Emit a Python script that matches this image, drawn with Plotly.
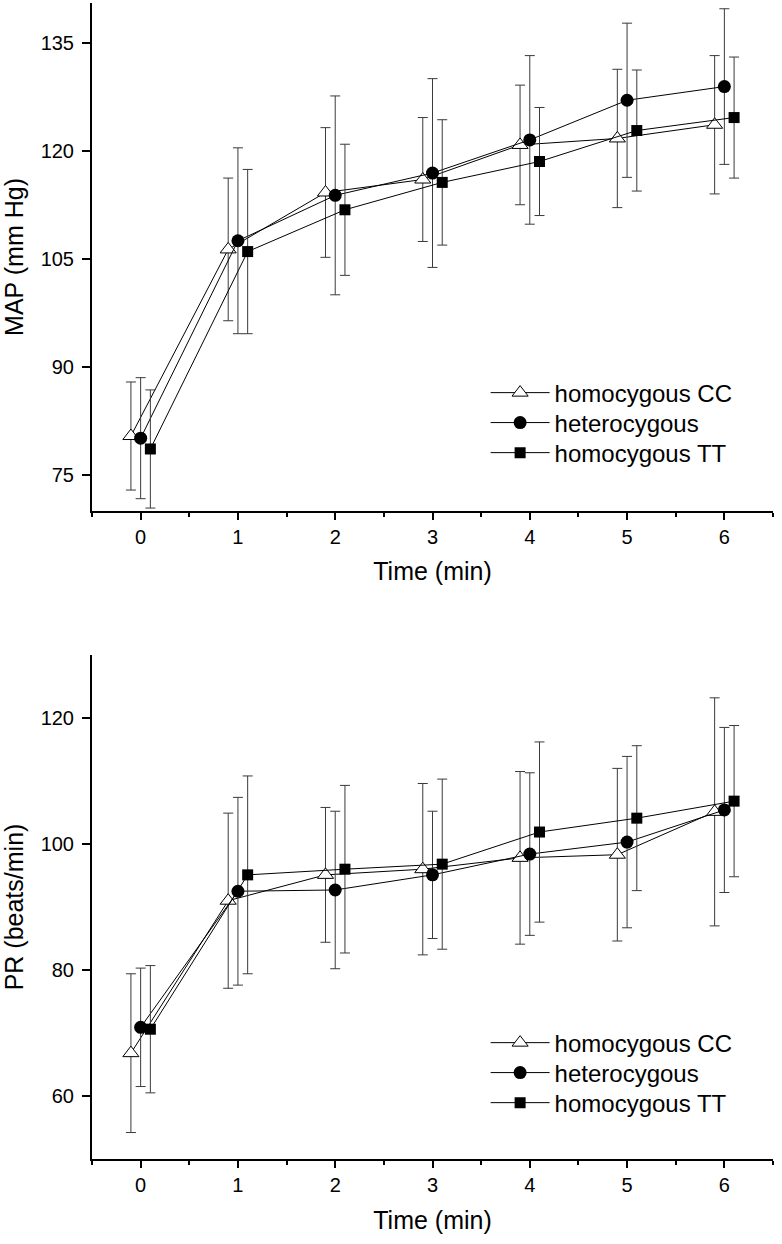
import plotly.graph_objects as go

time = [0, 1, 2, 3, 4, 5, 6]
groups = ["homocygous CC", "heterocygous", "homocygous TT"]

MAP_CC = [80.4, 106.3, 114.2, 116.0, 120.8, 121.7, 123.6]
MAP_CC_sd = [7.5, 9.9, 9.0, 8.6, 8.3, 9.6, 9.6]
MAP_het = [80.1, 107.5, 113.8, 116.9, 121.5, 127.0, 128.9]
MAP_het_sd = [8.4, 12.9, 13.8, 13.1, 11.7, 10.7, 10.8]
MAP_TT = [78.6, 106.0, 111.8, 115.6, 118.5, 122.8, 124.6]
MAP_TT_sd = [8.2, 11.4, 9.1, 8.7, 7.5, 8.4, 8.4]

PR_CC = [66.8, 91.0, 95.1, 96.0, 97.8, 98.3, 105.1]
PR_CC_sd = [12.6, 13.9, 10.7, 13.6, 13.7, 13.7, 18.1]
PR_het = [70.9, 92.5, 92.7, 95.1, 98.4, 100.3, 105.4]
PR_het_sd = [9.4, 14.9, 12.5, 10.1, 12.9, 13.6, 13.1]
PR_TT = [70.6, 95.1, 96.0, 96.8, 101.9, 104.1, 106.8]
PR_TT_sd = [10.1, 15.7, 13.3, 13.5, 14.3, 11.5, 12.0]

map_ticks = [75, 90, 105, 120, 135]
pr_ticks = [60, 80, 100, 120]

FONT = "Liberation Sans, Arial, sans-serif"
offsets = [-0.1, 0.0, 0.1]
styles = [
    dict(symbol="triangle-up", size=14, color="white", line=dict(color="black", width=1)),
    dict(symbol="circle", size=13, color="black", line=dict(color="black", width=0)),
    dict(symbol="square", size=11, color="black", line=dict(color="black", width=0)),
]

# one legend box per entry so row spacing can match the reference
top_legends = ["legend", "legend2", "legend3"]
bot_legends = ["legend4", "legend5", "legend6"]
top_leg_y = [0.6626, 0.6367, 0.6107]
bot_leg_y = [0.1003, 0.0744, 0.0484]

fig = go.Figure()

def add_set(means, sds, xaxis, yaxis, legends):
    for name, m, s, off, st, lg in zip(groups, means, sds, offsets, styles, legends):
        fig.add_trace(go.Scatter(
            x=[t + off for t in time], y=m, name=name, mode="lines+markers",
            line=dict(color="black", width=1), marker=st,
            error_y=dict(type="data", array=s, visible=True, color="#3a3a3a",
                         thickness=1, width=5),
            xaxis=xaxis, yaxis=yaxis, legend=lg,
        ))

add_set([MAP_CC, MAP_het, MAP_TT], [MAP_CC_sd, MAP_het_sd, MAP_TT_sd], "x", "y", top_legends)
add_set([PR_CC, PR_het, PR_TT], [PR_CC_sd, PR_het_sd, PR_TT_sd], "x2", "y2", bot_legends)

xcommon = dict(range=[-0.5, 6.5], tickmode="array", tickvals=time, ticks="outside",
               ticklen=7, tickwidth=1.5, tickcolor="black", showline=True,
               linecolor="black", linewidth=2, showgrid=False, zeroline=False,
               automargin=False,
               tickfont=dict(family=FONT, size=20, color="black"),
               minor=dict(dtick=0.5, tick0=0.5, ticks="outside", ticklen=4,
                          tickwidth=1.5, tickcolor="black", showgrid=False),
               title=dict(text="Time (min)", font=dict(family=FONT, size=25, color="black"),
                          standoff=16))
ycommon = dict(ticks="outside", ticklen=8, tickwidth=1.5, tickcolor="black",
               showline=True, linecolor="black", linewidth=2, showgrid=False,
               zeroline=False, automargin=False, ticklabelstandoff=4,
               tickfont=dict(family=FONT, size=20, color="black"))

def leg(y):
    return dict(x=0.578, y=y, xanchor="left", yanchor="middle",
                bgcolor="rgba(0,0,0,0)", borderwidth=0, itemwidth=59,
                font=dict(family=FONT, size=24, color="black"), tracegroupgap=0)

legend_layout = {}
for name, y in zip(top_legends + bot_legends, top_leg_y + bot_leg_y):
    legend_layout[name] = leg(y)

fig.update_layout(
    width=782, height=1244,
    margin=dict(l=92, r=9, t=3, b=85),
    plot_bgcolor="white", paper_bgcolor="white",
    font=dict(family=FONT, color="black"),
    showlegend=True,
    xaxis=dict(domain=[0, 1], anchor="y", **xcommon),
    yaxis=dict(domain=[0.5606, 1.0], anchor="x", range=[70, 140.5],
               tickmode="array", tickvals=map_ticks,
               title=dict(text="MAP (mm Hg)", font=dict(family=FONT, size=25, color="black"),
                          standoff=13),
               **ycommon),
    xaxis2=dict(domain=[0, 1], anchor="y2", **xcommon),
    yaxis2=dict(domain=[0.0, 0.436], anchor="x2", range=[50, 130],
                tickmode="array", tickvals=pr_ticks,
                title=dict(text="PR (beats/min)", font=dict(family=FONT, size=25, color="black"),
                           standoff=13),
                **ycommon),
    **legend_layout,
)

fig.write_html("out.html",
               config={"displayModeBar": False},
               post_script="document.body.style.margin='0';document.body.style.overflow='hidden';")
